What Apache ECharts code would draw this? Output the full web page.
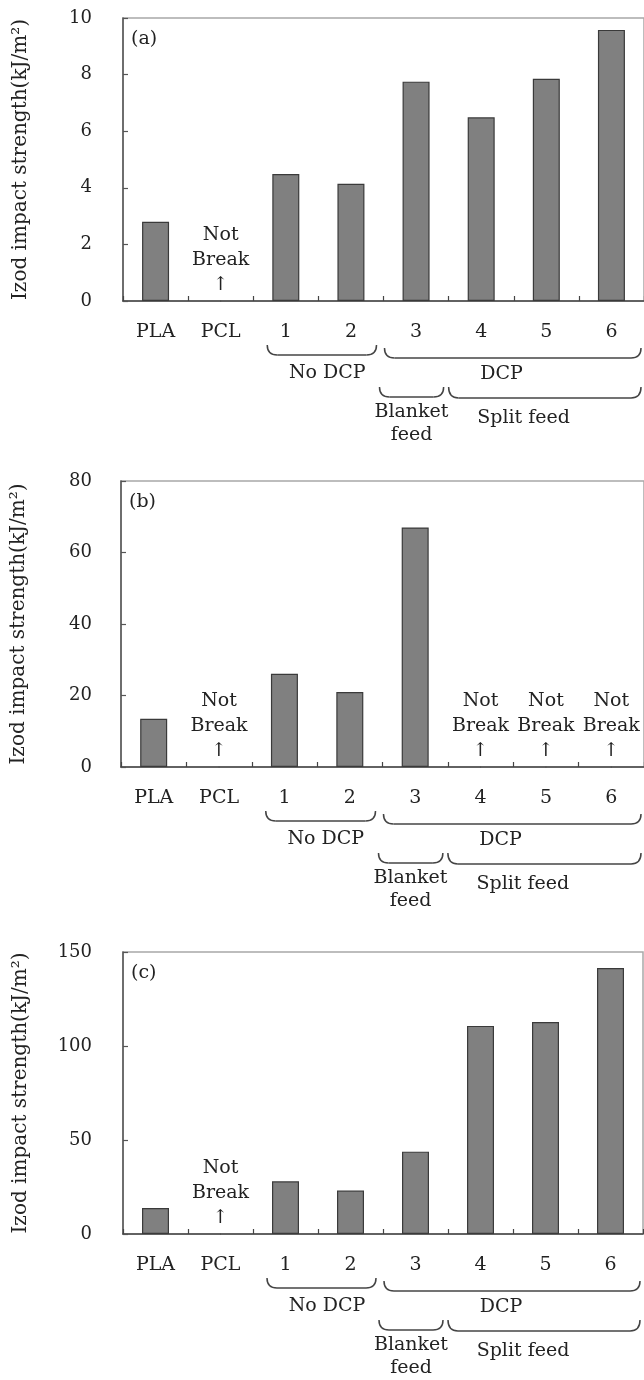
<!DOCTYPE html>
<html>
<head>
<meta charset="utf-8">
<script src="https://cdn.jsdelivr.net/npm/echarts@6/dist/echarts.min.js"></script>
<style>
html,body{margin:0;padding:0;background:#fff;}
#main{width:644px;height:1380px;}
</style>
</head>
<body>
<div id="main"></div>
<script>
// ---- data ----
const categories = ['PLA', 'PCL', '1', '2', '3', '4', '5', '6'];
const valuesA = [2.80, null, 4.49, 4.14, 7.75, 6.49, 7.85, 9.58];
const valuesB = [13.5, null, 26.1, 21.0, 67.0, null, null, null];
const valuesC = [13.8, null, 28.0, 23.1, 43.8, 110.7, 112.7, 141.5];
const notBreakA = ['PCL'];
const notBreakB = ['PCL', '4', '5', '6'];
const notBreakC = ['PCL'];
const yTicksA = [0, 2, 4, 6, 8, 10];
const yTicksB = [0, 20, 40, 60, 80];
const yTicksC = [0, 50, 100, 150];
const panelTags = ['(a)', '(b)', '(c)'];
const yAxisTitle = 'Izod impact strength(kJ/m²)';
const notBreakText = 'Not\nBreak\n↑';
const groupNoDCP = 'No DCP';
const groupDCP = 'DCP';
const groupBlanket = 'Blanket\nfeed';
const groupSplit = 'Split feed';

// ---- layout ----
const FONT = 'DejaVu Serif';
const TEXT = '#222';
const panels = [
  { values: valuesA, notBreak: notBreakA, ticks: yTicksA, grid: { left: 123, top: 18, width: 524, height: 283 } },
  { values: valuesB, notBreak: notBreakB, ticks: yTicksB, grid: { left: 121, top: 481, width: 524, height: 286 } },
  { values: valuesC, notBreak: notBreakC, ticks: yTicksC, grid: { left: 123, top: 952, width: 520, height: 282 } }
];

const grids = [], xAxes = [], yAxes = [], series = [];
panels.forEach((p, i) => {
  grids.push(Object.assign({ show: true, borderColor: '#a8a8a8', borderWidth: 1.5, backgroundColor: 'transparent' }, p.grid));
  xAxes.push({
    type: 'category', gridIndex: i, data: categories,
    boundaryGap: true,
    axisLine: { lineStyle: { color: '#444', width: 1.5 } },
    axisTick: { show: true, inside: true, length: 5, interval: 0, lineStyle: { color: '#444', width: 1.2 } },
    axisLabel: { interval: 0, margin: 22, fontFamily: FONT, fontSize: 19, color: TEXT, lineHeight: 19 },
    splitLine: { show: false }
  });
  const t = p.ticks;
  yAxes.push({
    type: 'value', gridIndex: i, min: t[0], max: t[t.length - 1], interval: t[1] - t[0],
    name: yAxisTitle, nameLocation: 'middle', nameRotate: 90, nameGap: 92,
    nameTextStyle: { fontFamily: FONT, fontSize: 20, color: TEXT },
    axisLine: { show: true, lineStyle: { color: '#555', width: 1.5 } },
    axisTick: { show: true, inside: true, length: 5, lineStyle: { color: '#555', width: 1.2 } },
    axisLabel: { margin: p.grid.left - 92, fontFamily: FONT, fontSize: 18, color: TEXT },
    splitLine: { show: false }
  });
  series.push({
    type: 'bar', xAxisIndex: i, yAxisIndex: i, data: p.values, barWidth: 27,
    itemStyle: { color: '#808080', borderColor: '#3a3a3a', borderWidth: 1.2 },
    silent: true, animation: false
  });
  series.push({
    type: 'scatter', xAxisIndex: i, yAxisIndex: i,
    data: p.notBreak.map(c => [c, 0]),
    symbolSize: 1, itemStyle: { color: '#444', opacity: 1 },
    label: {
      show: true, position: 'top', distance: 3, formatter: notBreakText,
      fontFamily: FONT, fontSize: 19, lineHeight: 25, color: TEXT, opacity: 1, align: 'center'
    },
    silent: true, animation: false, z: 5
  });
});

const chart = echarts.init(document.getElementById('main'), null, { renderer: 'canvas' });
chart.setOption({
  animation: false,
  backgroundColor: '#fff',
  grid: grids, xAxis: xAxes, yAxis: yAxes, series: series
});

// ---- annotations (braces and group labels) ----
const LS = { stroke: '#444', lineWidth: 1.5, fill: null };
function brace(x1, x2, y0, y1) {
  const r = Math.min(10, (x2 - x1) / 4);
  return {
    type: 'group', silent: true,
    children: [
      { type: 'bezierCurve', shape: { x1: x1, y1: y0, cpx1: x1, cpy1: y1, x2: x1 + r, y2: y1 }, style: LS },
      { type: 'line', shape: { x1: x1 + r, y1: y1, x2: x2 - r, y2: y1 }, style: LS },
      { type: 'bezierCurve', shape: { x1: x2 - r, y1: y1, cpx1: x2, cpy1: y1, x2: x2, y2: y0 }, style: LS }
    ]
  };
}
function txt(x, y, s) {
  return {
    type: 'text', x: x, y: y, silent: true,
    style: { text: s, fontFamily: FONT, fontSize: 19, lineHeight: 23, fill: TEXT, align: 'center', verticalAlign: 'middle' }
  };
}
const elements = [];
panels.forEach((p, i) => {
  const c0 = chart.convertToPixel({ xAxisIndex: i }, categories[0]);
  const c1 = chart.convertToPixel({ xAxisIndex: i }, categories[1]);
  const cw = c1 - c0;
  const b = k => c0 - cw / 2 + k * cw; // category boundary k
  const ax = chart.convertToPixel({ yAxisIndex: i }, 0); // axis line y
  elements.push({
    type: 'text', x: p.grid.left + 8, y: p.grid.top + 12, silent: true,
    style: { text: panelTags[i], fontFamily: FONT, fontSize: 19, fill: TEXT }
  });
  elements.push(brace(b(2) + 14, b(4) - 7, ax + 44, ax + 54));
  elements.push(brace(b(4) + 1, b(8) - 3, ax + 47, ax + 57));
  elements.push(brace(b(4) - 4, b(5) - 5, ax + 86, ax + 96));
  elements.push(brace(b(5), b(8) - 3, ax + 86, ax + 97));
  elements.push(txt(b(2) + 74, ax + 72, groupNoDCP));
  elements.push(txt(b(4) + 118, ax + 73, groupDCP));
  elements.push(txt(b(4) + 28, ax + 123, groupBlanket));
  elements.push(txt(b(5) + 75, ax + 117, groupSplit));
});
chart.setOption({ graphic: { elements: elements } });
</script>
</body>
</html>
